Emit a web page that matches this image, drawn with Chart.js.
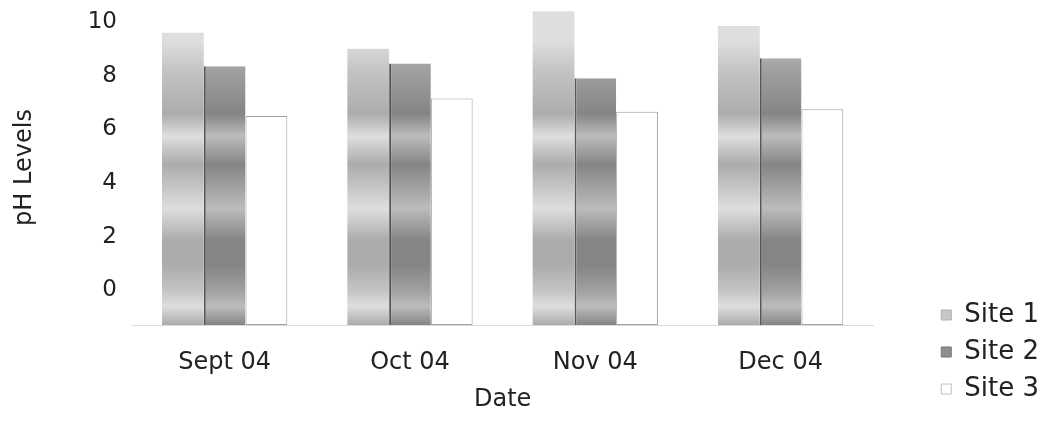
<!DOCTYPE html>
<html>
<head>
<meta charset="utf-8">
<script src="https://cdn.jsdelivr.net/npm/chart.js@4"></script>
<style>
  html, body { margin: 0; padding: 0; background: #fff; }
  #wrap { width: 1047px; height: 426px; }
</style>
</head>
<body>
<div id="wrap"><canvas id="phChart" width="1047" height="426"></canvas></div>
<script>
// pH readings per month
var categories = ['Sept 04', 'Oct 04', 'Nov 04', 'Dec 04'];
var site1 = [9.6, 9.0, 10.4, 9.85];
var site2 = [8.35, 8.45, 7.9, 8.65];
var site3 = [6.5, 7.15, 6.65, 6.75];
var yTicks = [0, 2, 4, 6, 8, 10];
var yMin = -1.3;
var yMax = 10.45;

var FONT = "'DejaVu Sans', 'Liberation Sans', sans-serif";
var INK = '#222';

// horizontal banding like the printed fill (fractions of the plot height)
var bandStops = [0, 0.1, 0.19, 0.33, 0.4, 0.49, 0.56, 0.63, 0.73, 0.81, 0.89, 0.94, 1];
var bandLevel = [0, 0, 1, 2, 0, 2, 1, 0, 2, 2, 1, 0, 2];
var cache = {};
function bands(chart, key, shades) {
  var area = chart.chartArea;
  if (!area) return shades[1];
  var id = key + area.top + '_' + area.bottom;
  if (cache[id]) return cache[id];
  var g = chart.ctx.createLinearGradient(0, area.top, 0, area.bottom);
  bandStops.forEach(function (s, i) { g.addColorStop(s, shades[bandLevel[i]]); });
  cache[id] = g;
  return g;
}
var shades1 = ['#dedede', '#c4c4c4', '#acacac'];
var shades2 = ['#bcbcbc', '#a0a0a0', '#858585'];

// nudge the legend down to the lower right corner, like the original
var legendNudge = {
  id: 'legendNudge',
  afterLayout: function (chart) {
    var lg = chart.legend;
    var dx = 57, dy = 281;
    lg.left += dx; lg.right += dx;
    lg.top += dy; lg.bottom += dy;
  }
};

var ctx = document.getElementById('phChart').getContext('2d');
var chart = new Chart(ctx, {
  type: 'bar',
  data: {
    labels: categories,
    datasets: [{
      label: 'Site 1',
      data: site1,
      base: yMin,
      backgroundColor: function (c) { return bands(c.chart, 's1', shades1); },
      borderWidth: 0
    }, {
      label: 'Site 2',
      data: site2,
      base: yMin,
      backgroundColor: function (c) { return bands(c.chart, 's2', shades2); },
      borderColor: '#555',
      borderWidth: { left: 2, top: 0, right: 0, bottom: 0 },
      borderSkipped: false
    }, {
      label: 'Site 3',
      data: site3,
      base: yMin,
      backgroundColor: '#ffffff',
      borderColor: '#a0a0a0',
      borderWidth: 1,
      borderSkipped: false
    }]
  },
  options: {
    responsive: false,
    animation: false,
    devicePixelRatio: 1,
    layout: { padding: { top: 10, right: 55, bottom: 0, left: 0 } },
    datasets: {
      bar: { categoryPercentage: 0.676, barPercentage: 1.0 }
    },
    plugins: {
      tooltip: { enabled: false },
      legend: {
        position: 'right',
        align: 'start',
        labels: {
          color: INK,
          font: { family: FONT, size: 26 },
          boxWidth: 10,
          boxHeight: 10,
          padding: 11,
          generateLabels: function (chart) {
            var fills = ['#c8c8c8', '#8e8e8e', '#ffffff'];
            var strokes = ['#b0b0b0', '#777', '#c0c0c0'];
            return chart.data.datasets.map(function (ds, i) {
              return {
                text: ds.label, fillStyle: fills[i], strokeStyle: strokes[i],
                lineWidth: 1, fontColor: INK, datasetIndex: i, hidden: false
              };
            });
          }
        }
      }
    },
    scales: {
      x: {
        grid: { display: false, drawTicks: false },
        border: { display: true, color: '#dcdcdc', width: 1 },
        ticks: { color: INK, font: { family: FONT, size: 24 }, padding: 23 },
        afterFit: function (scale) {
          scale.height = 101;
          scale.paddingLeft = 0; scale.paddingRight = 0;
        },
        title: {
          display: true, text: 'Date', color: INK,
          font: { family: FONT, size: 24 }, padding: { top: 8, bottom: 12 }
        }
      },
      y: {
        min: yMin,
        max: yMax,
        grid: { display: false, drawTicks: false },
        border: { display: false },
        afterBuildTicks: function (scale) {
          scale.ticks = yTicks.map(function (v) { return { value: v }; });
        },
        afterFit: function (scale) {
          scale.width = 132;
          scale.paddingTop = 0; scale.paddingBottom = 0;
        },
        ticks: { color: INK, font: { family: FONT, size: 23 }, padding: 15 },
        title: {
          display: true, text: 'pH Levels', color: INK,
          font: { family: FONT, size: 24 }, padding: { top: 10, bottom: 0 }
        }
      }
    }
  },
  plugins: [legendNudge]
});
</script>
</body>
</html>
